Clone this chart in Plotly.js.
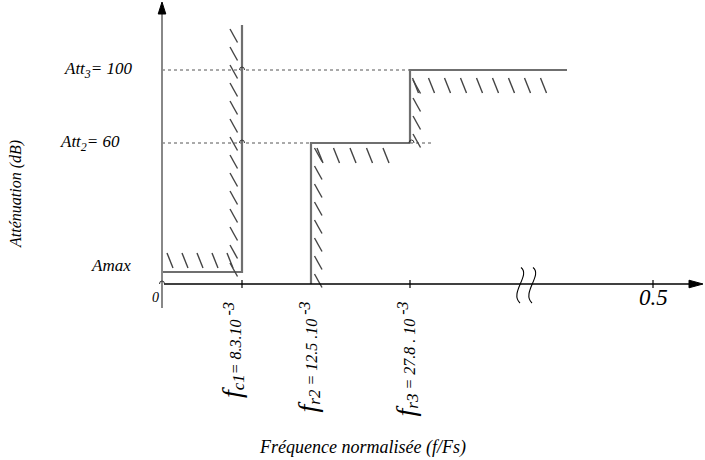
<!DOCTYPE html>
<html>
<head>
<meta charset="utf-8">
<script src="https://cdn.plot.ly/plotly-3.0.1.min.js"></script>
<style>html,body{margin:0;padding:0;background:#fff;}#chart{width:705px;height:460px;}</style>
</head>
<body>
<div id="chart"></div>
<script>
// ---- data (schematic template of the filter) ----
const freqLabels = [
  '0',
  '<span style="font-size:28px">f</span><sub><span style="font-size:17px">c1</span></sub><span style="font-size:16px">= 8.3.10</span><sup><span style="font-size:16px"> -3</span></sup>',
  '<span style="font-size:28px">f</span><sub><span style="font-size:17px">r2</span></sub><span style="font-size:16px"> = 12.5 .10</span><sup><span style="font-size:16px"> -3</span></sup>',
  '<span style="font-size:28px">f</span><sub><span style="font-size:17px">r3</span></sub><span style="font-size:16px"> = 27.8 . 10</span><sup><span style="font-size:16px"> -3</span></sup>',
  '0.5'
];
const freqPos = [0, 8.0, 14.9, 24.8, 49.1];      // schematic positions on the broken frequency axis
const attLabels = ['Amax', 'Att<sub>2</sub>= 60', 'Att<sub>3</sub>= 100'];
const attPos = [1.2, 14.1, 21.4];                // schematic positions on the attenuation axis
const passTop = 25.9;                            // top of pass-band template edge
const stopEnd = 40.5;                            // end of last stop band drawn
const breakPos = 35.9;                           // axis break location
const xTitle = 'Fréquence normalisée (f/Fs)';
const yTitle = 'Atténuation (dB)';

const FONT = 'Liberation Serif';
const fc1 = freqPos[1], fr2 = freqPos[2], fr3 = freqPos[3], fEnd = freqPos[4];
const aMax = attPos[0], att2 = attPos[1], att3 = attPos[2];

const traces = [];
function line(xs, ys, color, width, dash) {
  traces.push({x: xs, y: ys, mode: 'lines', type: 'scatter', hoverinfo: 'skip',
    line: {color: color, width: width, dash: dash || 'solid'}, showlegend: false});
}

// hatching helpers (short "\" strokes next to each template edge)
function hatchH(x0, x1, y, dy, step) {
  const xs = [], ys = [];
  for (let x = x0; x <= x1 + 1e-6; x += step) {
    xs.push(x, x + 0.6, null);
    ys.push(y + dy, y + dy - 1.5, null);
  }
  line(xs, ys, '#444', 1.4);
}
function hatchV(xa, y0, y1, step) {
  const xs = [], ys = [];
  for (let y = y1; y >= y0 - 1e-6; y -= step) {
    xs.push(xa, xa + 0.75, null);
    ys.push(y, y - 1.35, null);
  }
  line(xs, ys, '#444', 1.4);
}

// dotted reference levels
line([0, fr3], [att3, att3], '#555', 1, 'dot');
line([0, fr2], [att2, att2], '#555', 1, 'dot');
line([fr3, fr3 + 2.1], [att2, att2], '#555', 1, 'dot');

// template edges
line([0, fc1, fc1], [aMax, aMax, passTop], '#6f6f6f', 2.2);
line([fr2, fr2, fr3], [0, att2, att2], '#6f6f6f', 2.2);
line([fr3, fr3, stopEnd], [att2, att3, att3], '#6f6f6f', 2.2);

// hatches
hatchH(0.5, 6.5, aMax, 1.9, 1.5);
hatchV(fc1 - 1.2, 1.6, passTop - 0.4, 1.8);
hatchV(fr2 + 0.35, 0.5, att2 - 0.5, 1.8);
hatchH(fr2 + 0.6, fr3 - 1.5, att2, -0.5, 1.65);
hatchV(fr3 + 0.3, att2 + 0.5, att3 - 1.0, 1.8);
hatchH(fr3 + 0.25, stopEnd - 1.2, att3, -0.8, 1.6);

// axes lines
line([0, 0], [-2.4, 27.0], '#888', 2);
line([0.2, 53.0], [0, 0], '#000', 1.5);
// tick marks
[fc1, fr3, fEnd].forEach(p => line([p, p], [0.4, -0.4], '#000', 1.2));

// arrow heads
traces.push({x: [-0.38, 0, 0.38, -0.38], y: [27.0, 28.2, 27.0, 27.0], mode: 'lines', fill: 'toself',
  fillcolor: '#000', line: {color: '#000', width: 1}, hoverinfo: 'skip', showlegend: false});
traces.push({x: [52.7, 54.1, 52.7, 52.7], y: [0.38, 0, -0.38, 0.38], mode: 'lines', fill: 'toself',
  fillcolor: '#000', line: {color: '#000', width: 1}, hoverinfo: 'skip', showlegend: false});

// small hops where lines cross
const shapes = [];
function hop(x, y, r) {
  const h = 0.3;
  shapes.push({type: 'path', xref: 'x', yref: 'y',
    path: `M ${x - r},${y} Q ${x - r},${y + h} ${x},${y + h} Q ${x + r},${y + h} ${x + r},${y}`,
    line: {color: '#333', width: 1}});
}
hop(fc1, att3, 0.25);
hop(fc1, att2, 0.25);
hop(fr3 + 0.15, att2, 0.25);
hop(0, 0, 0.25);

// axis break symbol
[0, 1.2].forEach(off => {
  const b = breakPos + off;
  shapes.push({type: 'path', xref: 'x', yref: 'y',
    path: `M ${b},1.65 C ${b + 1.0},0.9 ${b - 1.2},-0.9 ${b - 0.1},-1.9`,
    line: {color: '#000', width: 1.1}});
});

// annotations
const ann = [];
function txt(x, y, text, size, opts) {
  ann.push(Object.assign({x: x, y: y, xref: 'x', yref: 'y', text: text, showarrow: false,
    font: {family: FONT, size: size, color: '#000', style: 'italic'}}, opts || {}));
}
txt(-2.7, att3, attLabels[2], 17, {xanchor: 'right'});
txt(-4.0, att2, attLabels[1], 17, {xanchor: 'right'});
txt(-2.9, aMax, attLabels[0], 17, {xanchor: 'right', yshift: 7});
txt(-0.7, -1.3, freqLabels[0], 14, {});
txt(fEnd, -1.3, freqLabels[4], 23, {});
const labelShift = [0, -1.0, -0.4, -0.5];
[1, 2, 3].forEach(i => {
  txt(freqPos[i] + labelShift[i], -1.6, freqLabels[i], 16, {textangle: -90, yanchor: 'top', xanchor: 'center'});
});
txt(-14.6, 9.0, yTitle, 16, {textangle: -90});
txt(20.0, -16.3, xTitle, 18, {});

const layout = {
  width: 705, height: 460, autosize: false,
  font: {family: FONT, size: 16, color: '#000'},
  margin: {l: 0, r: 0, t: 0, b: 0, pad: 0},
  paper_bgcolor: '#fff', plot_bgcolor: '#fff',
  xaxis: {range: [-16.2, 54.3], visible: false, fixedrange: true},
  yaxis: {range: [-17.6, 28.4], visible: false, fixedrange: true},
  shapes: shapes, annotations: ann, showlegend: false
};
Plotly.newPlot('chart', traces, layout, {staticPlot: true, displayModeBar: false});
</script>
</body>
</html>
